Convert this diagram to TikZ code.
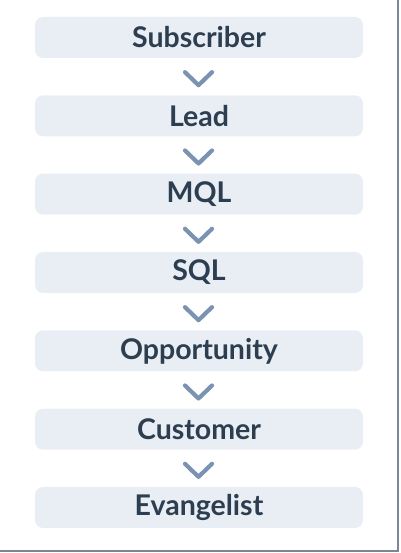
\documentclass[tikz,border=0pt]{standalone}
\usepackage{fontspec}
\setmainfont{Lato}
\usetikzlibrary{calc}
\definecolor{boxfill}{HTML}{E9EEF5}
\definecolor{txt}{HTML}{2C3E50}
\definecolor{chev}{HTML}{7A93B2}
\definecolor{frame}{HTML}{7B8799}
\begin{document}
\begin{tikzpicture}[x=1pt,y=-1pt,
  stage/.style={fill=boxfill, rounded corners=8pt, minimum width=328pt, minimum height=41pt, inner sep=0pt,
    font=\fontsize{28.5}{32}\selectfont\bfseries, text=txt},
  chevline/.style={draw=chev, line width=4.2pt, line cap=round, line join=round}]
\useasboundingbox (0,0) rectangle (400,553);
\begin{scope}
\clip (0,0) rectangle (400,553);
\draw[frame, line width=2pt] (-20,-20) rectangle (398,551);
\end{scope}
\foreach \t [count=\i from 0] in {Subscriber,Lead,MQL,SQL,Opportunity,Customer,Evangelist}{
  \node[stage] (s\i) at (199,{37.5+78.33*\i}) {\t};
}
\foreach \i [evaluate=\i as \j using int(\i+1)] in {0,...,5}{
  \coordinate (a\i) at ($(s\i.south)!0.5!(s\j.north)+(-0.5,2)$);
  \draw[chevline] ($(a\i)+(-13.5,-6.5)$) -- ($(a\i)+(0,6.5)$) -- ($(a\i)+(13.5,-6.5)$);
}
\end{tikzpicture}
\end{document}
